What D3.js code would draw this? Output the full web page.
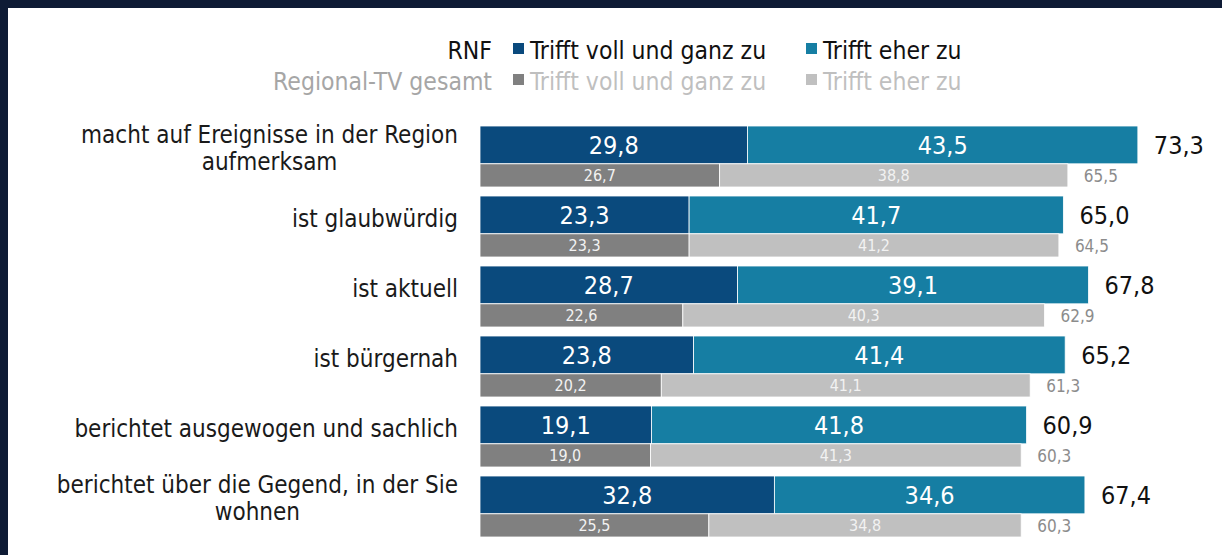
<!DOCTYPE html>
<html>
<head>
<meta charset="utf-8">
<title>RNF vs Regional-TV gesamt</title>
<script src="https://d3js.org/d3.v7.min.js"></script>
<style>
  html, body { margin: 0; padding: 0; background: #fff; }
  svg { display: block; font-family: "DejaVu Sans Condensed", "DejaVu Sans", sans-serif; font-stretch: condensed; }
</style>
</head>
<body>
<div id="chart"></div>
<script>
// categories (line breaks as in the original)
const categories = [
  "macht auf Ereignisse in der Region\naufmerksam",
  "ist glaubwürdig",
  "ist aktuell",
  "ist bürgernah",
  "berichtet ausgewogen und sachlich",
  "berichtet über die Gegend, in der Sie\nwohnen"
];

// RNF
const rnfVoll  = [29.8, 23.3, 28.7, 23.8, 19.1, 32.8];
const rnfEher  = [43.5, 41.7, 39.1, 41.4, 41.8, 34.6];
const rnfTotal = [73.3, 65.0, 67.8, 65.2, 60.9, 67.4];

// Regional-TV gesamt
const tvVoll  = [26.7, 23.3, 22.6, 20.2, 19.0, 25.5];
const tvEher  = [38.8, 41.2, 40.3, 41.1, 41.3, 34.8];
const tvTotal = [65.5, 64.5, 62.9, 61.3, 60.3, 60.3];

const groupNames = ["RNF", "Regional-TV gesamt"];
const seriesNames = ["Trifft voll und ganz zu", "Trifft eher zu"];

const width = 1222, height = 555;
const colors = {
  rnf: ["#0a4a7d", "#167ea3"],
  tv:  ["#808080", "#c0c0c0"]
};

const de = d3.formatLocale({ decimal: ",", thousands: ".", grouping: [3], currency: ["", " €"] });
const fmt = de.format(".1f");

const svg = d3.select("#chart").append("svg")
  .attr("width", width)
  .attr("height", height);

// dark frame (top + left)
svg.append("rect").attr("x", 0).attr("y", 0).attr("width", width).attr("height", 8).attr("fill", "#0e1b35");
svg.append("rect").attr("x", 0).attr("y", 0).attr("width", 8).attr("height", height).attr("fill", "#0e1b35");

const x = d3.scaleLinear().domain([0, 80]).range([480, 1198]);
const y = d3.scaleBand().domain(categories).range([126, 537]).paddingInner(0.1286).paddingOuter(0);
const rnfH = y.bandwidth() * 0.62;
const tvH = y.bandwidth() - rnfH;

const rows = categories.map((c, i) => ({
  cat: c,
  rnf: [rnfVoll[i], rnfEher[i]], rnfTotal: rnfTotal[i],
  tv: [tvVoll[i], tvEher[i]], tvTotal: tvTotal[i]
}));

const g = svg.selectAll(".row").data(rows).join("g")
  .attr("class", "row")
  .attr("transform", d => `translate(0,${y(d.cat)})`);

function drawStack(sel, key, top, h, col, fs, labCol, totCol, totFs) {
  sel.each(function(d) {
    const gg = d3.select(this);
    let acc = 0;
    const segs = d[key].map((v, j) => { const s = { v, x0: acc, x1: acc + v, j }; acc += v; return s; });
    gg.selectAll("rect." + key).data(segs).join("rect")
      .attr("class", key)
      .attr("x", s => x(s.x0))
      .attr("y", top)
      .attr("width", s => x(s.x1) - x(s.x0))
      .attr("height", h)
      .attr("fill", s => col[s.j])
      .attr("stroke", "#fff")
      .attr("stroke-width", 0.8);
    gg.selectAll("text." + key).data(segs).join("text")
      .attr("class", key)
      .attr("x", s => (x(s.x0) + x(s.x1)) / 2)
      .attr("y", top + h / 2)
      .attr("dy", "0.36em")
      .attr("text-anchor", "middle")
      .attr("fill", labCol)
      .style("font-size", fs + "px")
      .text(s => fmt(s.v));
    gg.append("text")
      .attr("x", x(d[key + "Total"]) + 16)
      .attr("y", top + h / 2)
      .attr("dy", "0.36em")
      .attr("fill", totCol)
      .style("font-size", totFs + "px")
      .text(fmt(d[key + "Total"]));
  });
}

drawStack(g, "rnf", 0, rnfH, colors.rnf, 25, "#fff", "#111", 25);
drawStack(g, "tv", rnfH, tvH, colors.tv, 16, "#f2f2f2", "#8c8c8c", 17);

// category labels: right-aligned block, lines centred within it
const labelRight = 458;
g.each(function(d) {
  const lines = d.cat.split("\n");
  const t = d3.select(this).append("text")
    .attr("fill", "#1a1a1a")
    .style("font-size", "24px");
  const lh = 27;
  const y0 = rnfH / 2 + 3 - (lines.length - 1) * lh / 2;
  const spans = t.selectAll("tspan").data(lines).join("tspan")
    .attr("y", (l, k) => y0 + k * lh)
    .attr("dy", "0.36em")
    .text(l => l);
  let maxW = 0;
  spans.each(function() { maxW = Math.max(maxW, this.getComputedTextLength()); });
  spans.attr("x", labelRight - maxW / 2).attr("text-anchor", "middle");
});

// legend
const legRows = [
  { name: groupNames[0], y: 59, nameCol: "#111", sw: colors.rnf, txtCol: "#111" },
  { name: groupNames[1], y: 90, nameCol: "#a6a6a6", sw: colors.tv, txtCol: "#bfbfbf" }
];
const legX = [513, 806];
const leg = svg.selectAll(".leg").data(legRows).join("g").attr("class", "leg");
leg.append("text")
  .attr("x", 492).attr("y", d => d.y)
  .attr("text-anchor", "end")
  .attr("fill", d => d.nameCol)
  .style("font-size", "24.5px")
  .text(d => d.name);
leg.each(function(d) {
  const l = d3.select(this);
  seriesNames.forEach((s, j) => {
    l.append("rect")
      .attr("x", legX[j]).attr("y", d.y - 16)
      .attr("width", 11).attr("height", 11)
      .attr("fill", d.sw[j]);
    l.append("text")
      .attr("x", legX[j] + 17).attr("y", d.y)
      .attr("fill", d.txtCol)
      .style("font-size", "24.5px")
      .text(s);
  });
});
</script>
</body>
</html>
